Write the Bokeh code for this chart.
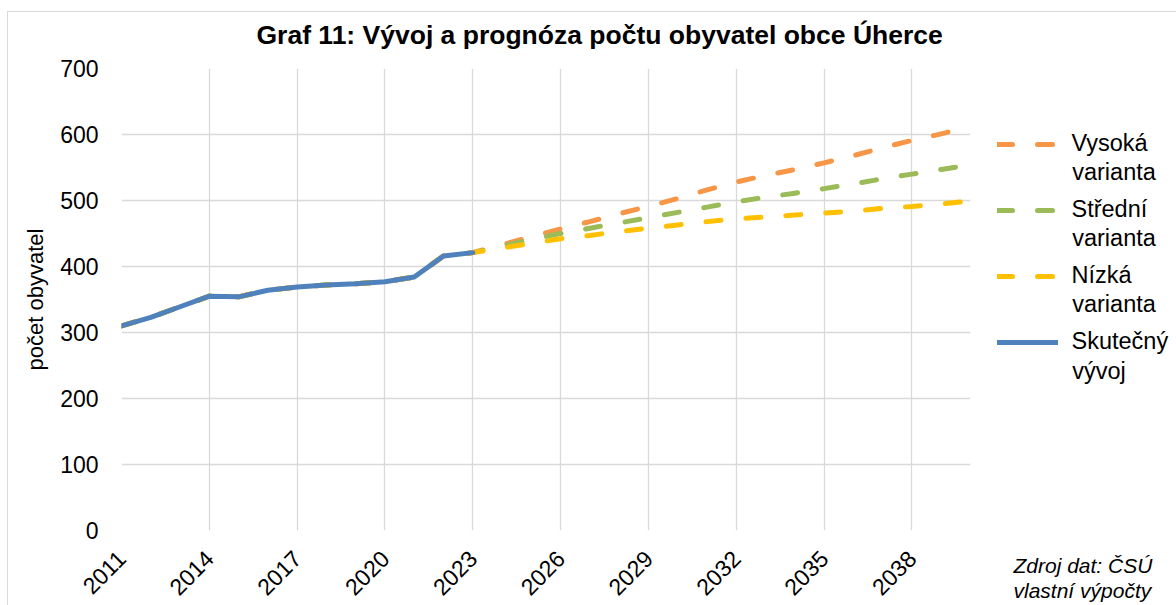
import math
from bokeh.plotting import figure
from bokeh.layouts import row
from bokeh.models import Range1d, FixedTicker, Legend, LegendItem, Label, Title
from bokeh.embed import file_html
from bokeh.resources import INLINE

# ---------------- data ----------------
years_actual = [2011, 2012, 2013, 2014, 2015, 2016, 2017, 2018, 2019, 2020, 2021, 2022, 2023]
actual = [310, 323, 339, 355, 354, 364, 369, 372, 374, 377, 384, 416, 421]

years_proj = [2024, 2025, 2026, 2027, 2028, 2029, 2030, 2031, 2032,
              2033, 2034, 2035, 2036, 2037, 2038, 2039, 2040]
high = [433, 445, 457, 468, 480, 491, 503, 516, 528, 538, 547, 557, 568, 580, 591, 601, 612]
mid = [431, 441, 450, 458, 466, 474, 482, 490, 498, 505, 511, 518, 525, 533, 540, 547, 554]
low = [428, 435, 442, 447, 453, 458, 463, 468, 472, 475, 478, 481, 484, 488, 491, 495, 499]

x_ticks = [2011, 2014, 2017, 2020, 2023, 2026, 2029, 2032, 2035, 2038]
y_ticks = [0, 100, 200, 300, 400, 500, 600, 700]

title_text = "Graf 11: Vývoj a prognóza počtu obyvatel obce Úherce"
y_label = "počet obyvatel"
legend_first = ["Vysoká", "Střední", "Nízká", "Skutečný"]
legend_second = ["varianta", "varianta", "varianta", "vývoj"]
source_lines = ["Zdroj dat: ČSÚ", "vlastní výpočty"]

C_HIGH = "#F79646"
C_MID = "#9BBB59"
C_LOW = "#FFC000"
C_ACT = "#4F81BD"
GRID = "#D9D9D9"
FONT = "Liberation Sans"
DASH = "15 25"


def full(proj):
    return years_actual + years_proj, actual + proj


series = [(full(high), C_HIGH, DASH), (full(mid), C_MID, DASH),
          (full(low), C_LOW, DASH), ((years_actual, actual), C_ACT, None)]


def spacer(px):
    # a blank white title used only to reserve vertical space in a side panel
    return Title(text=" ", text_font_size="1px", text_color="white", standoff=px)


# page layout: content starts at page (8, 12) after a 1px chart border
# main figure: page x 8..985, y 12..605 ; frame: left 121, right 970, top 68, bottom 532
p = figure(width=977, height=593, output_backend="svg", toolbar_location=None,
           x_range=Range1d(2011, 2040), y_range=Range1d(0, 700),
           min_border_left=113, min_border_right=15,
           min_border_top=56, min_border_bottom=73)
p.outline_line_color = None
p.background_fill_color = "white"
p.border_fill_color = "white"
p.title.text = ""

p.add_layout(spacer(16), "above")
p.add_layout(Title(text=title_text, align="left", offset=135, standoff=0,
                   text_font=FONT, text_font_size="26.5px", text_font_style="bold",
                   text_color="black"), "above")

p.xaxis.ticker = FixedTicker(ticks=x_ticks)
p.yaxis.ticker = FixedTicker(ticks=y_ticks)
for ax in (p.xaxis, p.yaxis):
    ax.axis_line_color = None
    ax.major_tick_line_color = None
    ax.minor_tick_line_color = None
    ax.major_tick_out = 0
    ax.major_tick_in = 0
    ax.major_label_text_font = FONT
    ax.major_label_text_color = "black"
p.xaxis.major_label_text_font_size = "23px"
p.yaxis.major_label_text_font_size = "23px"
p.xaxis.major_label_orientation = math.pi / 4
p.yaxis.major_label_standoff = 23
p.xaxis.major_label_standoff = 24
p.yaxis.axis_label = y_label
p.yaxis.axis_label_text_font = FONT
p.yaxis.axis_label_text_font_size = "22px"
p.yaxis.axis_label_text_font_style = "normal"
p.yaxis.axis_label_text_color = "black"
p.yaxis.axis_label_standoff = 9

p.xgrid.grid_line_color = GRID
p.ygrid.grid_line_color = GRID
p.xgrid.grid_line_width = 1.3
p.ygrid.grid_line_width = 1.3

# series (projection variants include the historical values)
for (xs, ys), col, dsh in series:
    kw = dict(line_color=col, line_width=5, line_cap="round", line_join="round")
    if dsh:
        kw["line_dash"] = dsh
    p.line(xs, ys, **kw)

# side figure: page x 985..1176; its frame is aligned with the main frame (page y 68..532)
s = figure(width=191, height=593, output_backend="svg", toolbar_location=None,
           x_range=Range1d(985, 1176), y_range=Range1d(532, 68),
           x_axis_location=None, y_axis_location=None,
           min_border_left=0, min_border_right=0, min_border_top=0, min_border_bottom=0)
s.outline_line_color = None
s.grid.visible = False
s.background_fill_color = "white"
s.border_fill_color = "white"

# legend renderers: same series, lying outside this figure's ranges (not visible)
items = []
for ((xs, ys), col, dsh), lab in zip(series, legend_first):
    kw = dict(line_color=col, line_width=5, line_cap="round")
    if dsh:
        kw["line_dash"] = dsh
    r = s.line(xs, ys, **kw)
    items.append(LegendItem(label=lab, renderers=[r]))

legend = Legend(items=items, location=(11.5, 173.3), orientation="vertical",
                glyph_width=61, glyph_height=30, label_height=30,
                label_standoff=14, spacing=36, padding=0, margin=0,
                border_line_color=None, background_fill_alpha=0,
                label_text_font=FONT, label_text_font_size="23.5px",
                label_text_color="black")
s.add_layout(legend, "center")

for txt, yc in zip(legend_second, [172, 238, 305, 372]):
    s.add_layout(Label(x=1071.7, y=yc, text=txt, text_font=FONT, text_font_size="23.5px",
                       text_color="black", text_baseline="middle", text_align="left"))

# source note as titles below the side frame
s.add_layout(spacer(18), "below")
for txt in source_lines:
    s.add_layout(Title(text=txt, align="left", offset=28, standoff=0,
                       text_font=FONT, text_font_size="21px", text_font_style="italic",
                       text_color="black"), "below")

layout = row(p, s, styles={"margin-left": "7px", "margin-top": "11px",
                           "border-left": "1px solid #D9D9D9",
                           "border-top": "1px solid #D9D9D9"})

open("out.html", "w").write(file_html(layout, INLINE))
